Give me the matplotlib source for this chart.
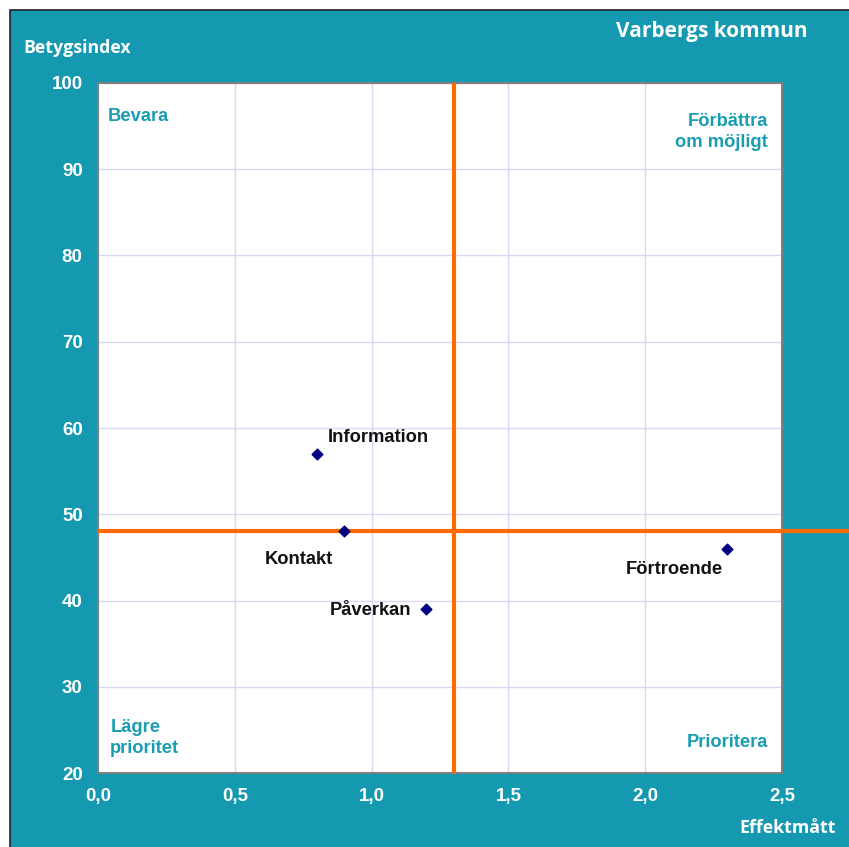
import matplotlib.pyplot as plt
from matplotlib.patches import Rectangle

# data
namn = ['Information', 'Kontakt', 'Påverkan', 'Förtroende']
effekt = [0.80, 0.90, 1.20, 2.30]
betyg = [57, 48, 39, 46]
# label offsets in points (dx, dy) and alignment
offs = [(8, 12, 'left'), (-8, -20, 'right'), (-11, -1, 'right'), (-3, -15, 'right')]
medel_x = 1.30
medel_y = 48

xticks = [0.0, 0.5, 1.0, 1.5, 2.0, 2.5]
yticks = [20, 30, 40, 50, 60, 70, 80, 90, 100]

teal = '#1499b0'
lab_teal = '#1a9cb2'

fig = plt.figure(figsize=(8.49, 8.47), dpi=100, facecolor='white')
fig.patches.append(Rectangle((10 / 849, -0.1), 1, 1.1 - 10 / 847, transform=fig.transFigure,
                             facecolor=teal, edgecolor='#222222', lw=1.2, zorder=-10))

ax = fig.add_axes([98 / 849, 1 - 773 / 847, 684 / 849, 690 / 847])
ax.set_facecolor('white')
ax.set_xlim(0, 2.5)
ax.set_ylim(20, 100)
ax.set_xticks(xticks)
ax.set_yticks(yticks)
ax.set_xticklabels([f'{t:.1f}'.replace('.', ',') for t in xticks])
ax.set_yticklabels([str(t) for t in yticks])
ax.grid(True, color='#d8d8f4', lw=1)
ax.set_axisbelow(True)
for s in ax.spines.values():
    s.set_color('#808080')
    s.set_linewidth(1.5)
ax.tick_params(length=0, pad=11, labelcolor='white', labelsize=13.5)
for t in ax.get_xticklabels() + ax.get_yticklabels():
    t.set_fontweight('bold')
    t.set_family('Liberation Sans')
ax.tick_params(axis='y', pad=11)

# median lines
ax.plot([medel_x, medel_x], [20, 100], color='#ff6a00', lw=3, zorder=3, solid_capstyle='butt')
ax.plot([0, 2.77], [medel_y, medel_y], color='#ff6a00', lw=3, zorder=3, clip_on=False,
        solid_capstyle='butt')

ax.scatter(effekt, betyg, marker='D', s=30, color='#000080', zorder=4)
for n, x, y, (dx, dy, ha) in zip(namn, effekt, betyg, offs):
    ax.annotate(n, (x, y), xytext=(dx, dy), textcoords='offset points', ha=ha, va='center',
                fontsize=13.2, fontweight='bold', family='Liberation Sans', color='#111111')

qkw = dict(fontsize=13.2, fontweight='bold', family='Liberation Sans', color=lab_teal,
           transform=ax.transAxes, linespacing=1.3)
ax.text(0.014, 0.951, 'Bevara', ha='left', va='center', **qkw)
ax.text(0.9795, 0.929, 'Förbättra\nom möjligt', ha='right', va='center', **qkw)
ax.text(0.018, 0.051, 'Lägre\nprioritet', ha='left', va='center', **qkw)
ax.text(0.9795, 0.044, 'Prioritera', ha='right', va='center', **qkw)

tkw = dict(color='white', fontweight='bold', family='Open Sans')
fig.text(808 / 849, 1 - 32 / 847, 'Varbergs kommun', ha='right', va='center', fontsize=15, **tkw)
fig.text(23 / 849, 1 - 48 / 847, 'Betygsindex', ha='left', va='center', fontsize=12.8, **tkw)
fig.text(836 / 849, 1 - 828 / 847, 'Effektmått', ha='right', va='center', fontsize=12.8, **tkw)

fig.savefig('out.png', dpi=100, facecolor=fig.get_facecolor())
